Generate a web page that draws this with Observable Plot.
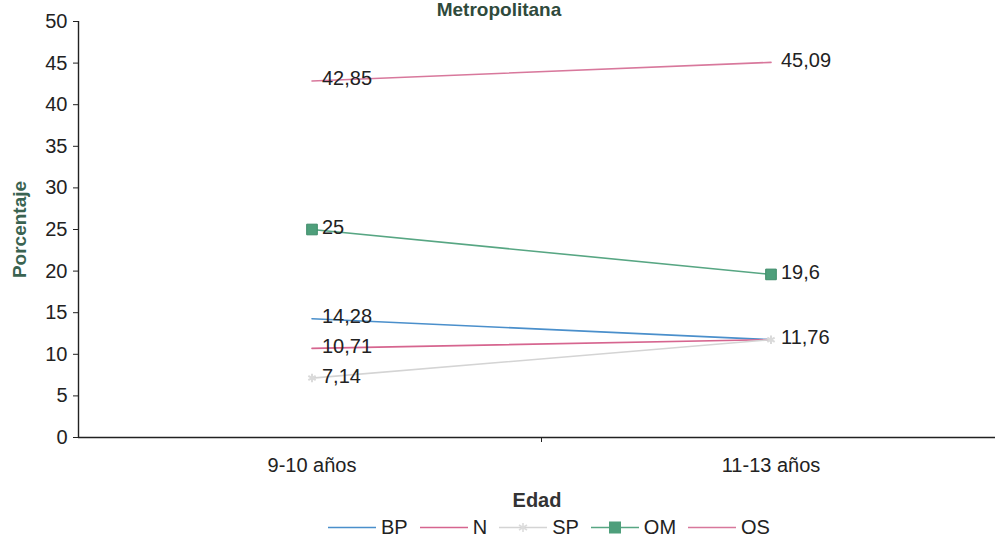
<!DOCTYPE html>
<html>
<head>
<meta charset="utf-8">
<script src="https://cdn.jsdelivr.net/npm/d3@7"></script>
<script src="https://cdn.jsdelivr.net/npm/@observablehq/plot@0.6"></script>
<style>
  html, body { margin: 0; padding: 0; background: #fff; }
  body { width: 995px; height: 540px; position: relative; overflow: hidden; font-family: "Liberation Sans", Arial, sans-serif; }
  #title { position: absolute; left: 0; width: 998px; top: 0px; text-align: center; font-size: 19px; line-height: 19px; font-weight: bold; color: #2f4a3c; }
  #chart { position: absolute; left: 0; top: 0; }
  #legend { position: absolute; left: 328px; top: 515px; display: flex; align-items: center; font-size: 20px; line-height: 24px; color: #222; white-space: nowrap; }
  #legend .item { display: flex; align-items: center; margin-right: 12px; }
  #legend svg { margin-right: 5px; }
  #chart svg [aria-label="x-axis label"] text, #chart svg [aria-label="x-axis label"] { font-weight: bold; fill: #333; font-size: 20px; }
  #chart svg [aria-label="y-axis label"] text, #chart svg [aria-label="y-axis label"] { font-weight: bold; fill: #3a6351; font-size: 19px; }
</style>
</head>
<body>
<div id="chart"></div>
<div id="title">Metropolitana</div>
<div id="legend"></div>
<script>
// ---- data ----
const categories = ["9-10 años", "11-13 años"];
const seriesNames = ["BP", "N", "SP", "OM", "OS"];
const bpValues = [14.28, 11.76];
const nValues = [10.71, 11.76];
const spValues = [7.14, 11.76];
const omValues = [25, 19.6];
const osValues = [42.85, 45.09];
const yTicks = [0, 5, 10, 15, 20, 25, 30, 35, 40, 45, 50];
// which series show a data label at each category (the overlapping 11,76 is shown once)
const labelShown = {
  BP: [true, false],
  N: [true, false],
  SP: [true, true],
  OM: [true, true],
  OS: [true, true]
};
const seriesColors = {BP: "#4a8fcb", N: "#d6658f", SP: "#d4d4d4", OM: "#57a683", OS: "#d8789c"};

const valuesBySeries = {BP: bpValues, N: nValues, SP: spValues, OM: omValues, OS: osValues};
const rows = seriesNames.flatMap(s => categories.map((c, i) => ({series: s, i, cat: c, value: valuesBySeries[s][i]})));
const labelRows = rows.filter(d => labelShown[d.series][d.i]);
const fmt = v => String(v).replace(".", ",");

const chart = Plot.plot({
  width: 995,
  height: 510,
  marginLeft: 78,
  marginRight: 0,
  marginTop: 21,
  marginBottom: 73,
  style: {fontFamily: "'Liberation Sans', Arial, sans-serif", fontSize: "20px", color: "#222", background: "transparent", overflow: "visible"},
  x: {type: "linear", domain: [-0.5, 1.5], range: [82, 1000]},
  y: {domain: [0, 50]},
  marks: [
    Plot.axisY({ticks: yTicks, tickSize: 5, tickPadding: 6, label: "Porcentaje", labelAnchor: "center", labelOffset: 66, labelArrow: false}),
    Plot.axisX({ticks: [0, 1], tickFormat: i => categories[i], tickSize: 0, tickPadding: 20, label: "Edad", labelAnchor: "center", labelOffset: 69, labelArrow: false}),
    Plot.axisX({ticks: [0.5], tickFormat: () => "", tickSize: 5, label: null}),
    Plot.ruleX([-0.5], {stroke: "#222", strokeWidth: 1.4, dx: -4}),
    Plot.ruleY([0], {stroke: "#222", strokeWidth: 1.4}),
    Plot.line(rows, {x: "i", y: "value", z: "series", stroke: d => seriesColors[d.series], strokeWidth: 1.6}),
    Plot.dot(rows.filter(d => d.series === "SP"), {x: "i", y: "value", symbol: "asterisk", r: 4, stroke: "#dadada", strokeWidth: 2}),
    Plot.dot(rows.filter(d => d.series === "OM"), {x: "i", y: "value", symbol: "square", r: 6, fill: "#4e9f7b", stroke: "#3f8c6a", strokeWidth: 1}),
    Plot.text(labelRows, {x: "i", y: "value", text: d => fmt(d.value), textAnchor: "start", dx: 10, dy: -2, fontSize: 20, fill: "#222"})
  ]
});
document.getElementById("chart").appendChild(chart);

// ---- legend ----
const legend = document.getElementById("legend");
for (const s of seriesNames) {
  const item = document.createElement("div");
  item.className = "item";
  const marker = s === "OM"
    ? `<rect x="18" y="0.5" width="12" height="12" fill="#4e9f7b"/>`
    : s === "SP" ? `<path d="M24,2V11M20,4L28,9M28,4L20,9" stroke="#dcdcdc" stroke-width="1.6"/>` : "";
  item.innerHTML = `<svg width="48" height="13"><line x1="0" x2="48" y1="6.5" y2="6.5" stroke="${seriesColors[s]}" stroke-width="1.6"/>${marker}</svg><span>${s}</span>`;
  legend.appendChild(item);
}
</script>
</body>
</html>
